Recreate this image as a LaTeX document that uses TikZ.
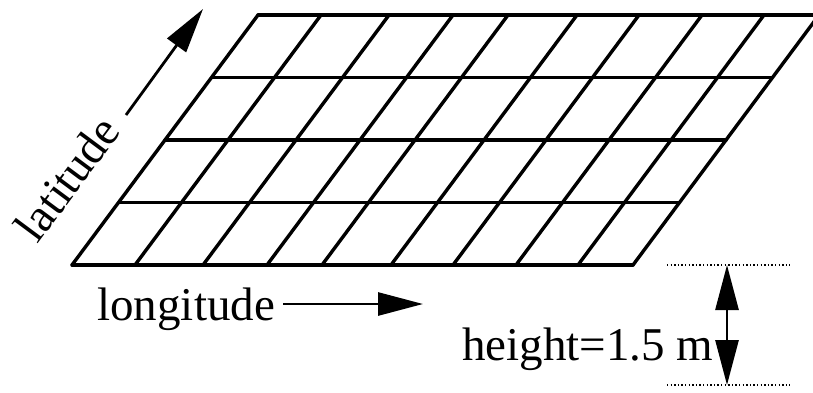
\documentclass[tikz,border=0pt]{standalone}
\usepackage{fontspec}
\setmainfont{Liberation Serif}
\usetikzlibrary{arrows.meta}

\begin{document}
\begin{tikzpicture}[x=0.5pt, y=-0.5pt, >={Triangle[length=22.5pt,width=11.5pt]},
    grid/.style={line width=1.7pt, line cap=round, line join=round},
    axis/.style={->, line width=1.4pt},
    label/.style={inner sep=0pt, font=\fontsize{23.5}{27}\selectfont},
    level/.style={line width=1.2pt, dash pattern=on 0.7pt off 1.1pt}]
    \useasboundingbox (0,0) rectangle (813,392);
    \clip (0,0) rectangle (813,392);

    % horizontal lines
    \draw[grid] (258,15) -- (819,15);
    \draw[grid] (211.5,77.5) -- (772.5,77.5);
    \draw[grid] (165,140) -- (726,140);
    \draw[grid] (118.5,202.5) -- (679.5,202.5);
    \draw[grid] (72,265) -- (633,265);

    % slanted lines
    \draw[grid] (72,265) -- (258,15);
    \draw[grid] (135,265) -- (321,15);
    \draw[grid] (203,265) -- (389,15);
    \draw[grid] (267,265) -- (453,15);
    \draw[grid] (322,265) -- (508,15);
    \draw[grid] (391,265) -- (577,15);
    \draw[grid] (453,265) -- (639,15);
    \draw[grid] (516,265) -- (702,15);
    \draw[grid] (578,265) -- (764,15);
    \draw[grid] (633,265) -- (819,15);

    \node[label, anchor=base, rotate=53.4] (lat) at (80,188) {latitude};
    \node[label, anchor=base west] (lon) at (97,320) {longitude};
    \node[label, anchor=base west] (hgt) at (462,360) {height=1.5 m};

    \coordinate (latS) at (126,115);
    \coordinate (latE) at (203,9);
    \coordinate (lonS) at (283,304);
    \coordinate (lonE) at (423,304);
    \coordinate (hTop) at (727,265);
    \coordinate (hBot) at (727,385);

    \draw[axis] (latS) -- (latE);
    \draw[axis] (lonS) -- (lonE);
    \draw[axis, <->] (hTop) -- (hBot);

    \draw[level] (667,265) -- (hTop) -- (790,265);
    \draw[level] (667,385) -- (hBot) -- (790,385);
\end{tikzpicture}
\end{document}
